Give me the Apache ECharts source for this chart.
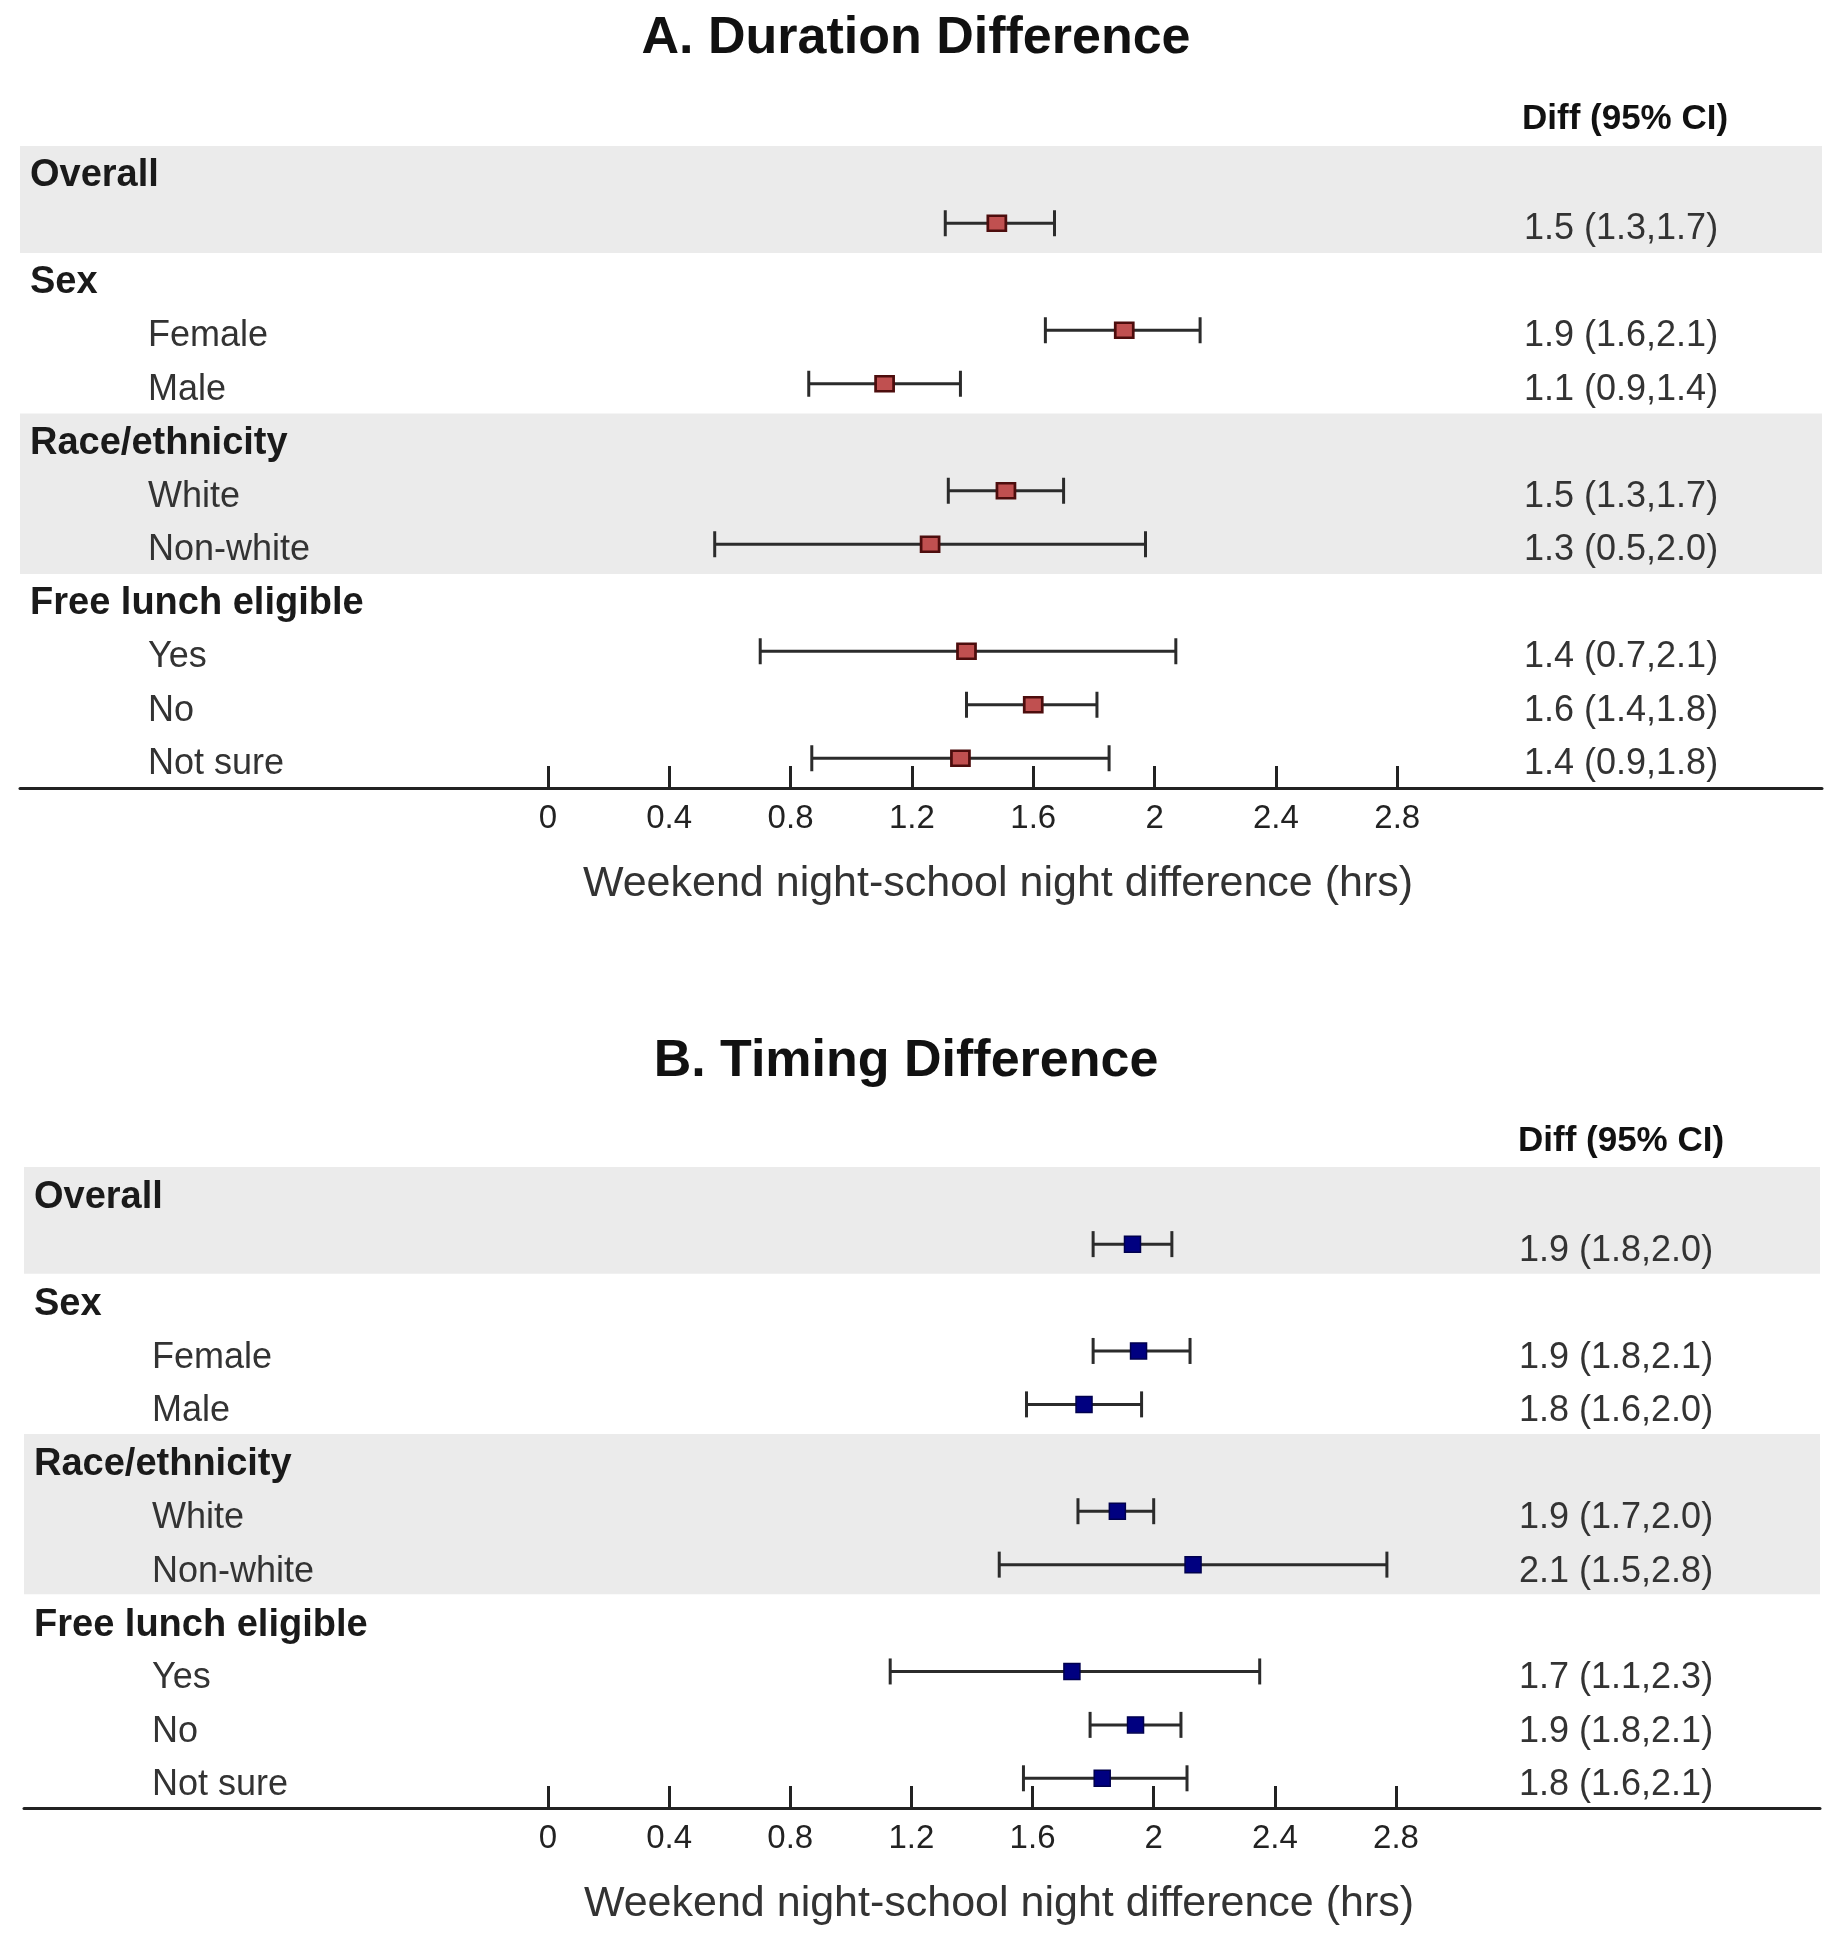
<!DOCTYPE html>
<html>
<head>
<meta charset="utf-8">
<title>Weekend night - school night difference</title>
<script src="https://cdn.jsdelivr.net/npm/echarts@6/dist/echarts.min.js"></script>
<style>
    html, body { margin: 0; padding: 0; background: #fff; }
    #main { width: 1845px; height: 1950px; }
</style>
</head>
<body>
<div id="main"></div>
<script>
// rows of both panels (header rows are bold, the rest indented)
var rowLabels = ['Overall', '', 'Sex', 'Female', 'Male', 'Race/ethnicity', 'White', 'Non-white',
    'Free lunch eligible', 'Yes', 'No', 'Not sure'];
var rowIsHeader = [1, 0, 1, 0, 0, 1, 0, 0, 1, 0, 0, 0];
var dataRows = [1, 3, 4, 6, 7, 9, 10, 11];
var shadedRows = [[0, 1], [5, 7]];
var tickValues = [0, 0.4, 0.8, 1.2, 1.6, 2, 2.4, 2.8];
var axisTitle = 'Weekend night-school night difference (hrs)';

// A. Duration difference
var durEst = [1.48, 1.90, 1.11, 1.51, 1.26, 1.38, 1.60, 1.36];
var durLow = [1.31, 1.64, 0.86, 1.32, 0.55, 0.70, 1.38, 0.87];
var durHigh = [1.67, 2.15, 1.36, 1.70, 1.97, 2.07, 1.81, 1.85];
var durText = ['1.5 (1.3,1.7)', '1.9 (1.6,2.1)', '1.1 (0.9,1.4)', '1.5 (1.3,1.7)', '1.3 (0.5,2.0)',
    '1.4 (0.7,2.1)', '1.6 (1.4,1.8)', '1.4 (0.9,1.8)'];

// B. Timing difference
var timEst = [1.93, 1.95, 1.77, 1.88, 2.13, 1.73, 1.94, 1.83];
var timLow = [1.80, 1.80, 1.58, 1.75, 1.49, 1.13, 1.79, 1.57];
var timHigh = [2.06, 2.12, 1.96, 2.00, 2.77, 2.35, 2.09, 2.11];
var timText = ['1.9 (1.8,2.0)', '1.9 (1.8,2.1)', '1.8 (1.6,2.0)', '1.9 (1.7,2.0)', '2.1 (1.5,2.8)',
    '1.7 (1.1,2.3)', '1.9 (1.8,2.1)', '1.8 (1.6,2.1)'];

var FONT = 'Arial, "Liberation Sans", Helvetica, sans-serif';

function renderCI(params, api) {
    var row = api.value(2);
    var p0 = api.coord([api.value(0), row]);
    var p1 = api.coord([api.value(1), row]);
    var y = p0[1] - 3;
    var cap = 13;
    var st = { stroke: '#2b2b2b', lineWidth: 3 };
    return {
        type: 'group',
        children: [
            { type: 'line', shape: { x1: p0[0], y1: y, x2: p1[0], y2: y }, style: st },
            { type: 'line', shape: { x1: p0[0], y1: y - cap, x2: p0[0], y2: y + cap }, style: st },
            { type: 'line', shape: { x1: p1[0], y1: y - cap, x2: p1[0], y2: y + cap }, style: st }
        ]
    };
}

var option = {
    backgroundColor: '#fff',
    animation: false,
    textStyle: { fontFamily: FONT },
    grid: [],
    xAxis: [],
    yAxis: [],
    series: [],
    graphic: []
};

function addPanel(i, cfg) {
    option.grid.push({ left: cfg.left, top: cfg.top, width: cfg.width, height: cfg.height });

    option.xAxis.push({
        type: 'value',
        gridIndex: i,
        z: 10,
        min: cfg.xMin,
        max: cfg.xMax,
        splitLine: { show: false },
        axisLine: { show: true, onZero: false, lineStyle: { color: '#222', width: 3 } },
        axisTick: { show: true, inside: true, length: 22, customValues: tickValues, lineStyle: { color: '#222', width: 3 } },
        axisLabel: { customValues: tickValues, margin: 14, fontSize: 33, color: '#222' },
        name: axisTitle,
        nameLocation: 'middle',
        nameGap: 75,
        nameTextStyle: { fontSize: 43, color: '#333', padding: [0, 0, 0, 154] }
    });

    // left labels
    option.yAxis.push({
        type: 'value',
        gridIndex: i,
        z: 10,
        inverse: true,
        min: -0.5,
        max: 11.5,
        splitLine: { show: false },
        axisLine: { show: false, onZero: false },
        axisTick: { show: false },
        axisLabel: {
            inside: true,
            align: 'left',
            margin: 10,
            customValues: rowLabels.map(function (l, k) { return k; }).filter(function (k) { return rowLabels[k] !== ''; }),
            formatter: function (v) {
                var k = Math.round(v);
                return rowIsHeader[k] ? '{h|' + rowLabels[k] + '}' : '{s|' + rowLabels[k] + '}';
            },
            rich: {
                h: { fontSize: 38, fontWeight: 'bold', color: '#1a1a1a', fontFamily: FONT, padding: [cfg.textShift, 0, 0, 0] },
                s: { fontSize: 36, color: '#333', fontFamily: FONT, padding: [cfg.textShift, 0, 0, 118] }
            }
        }
    });

    // right column: Diff (95% CI)
    option.yAxis.push({
        type: 'value',
        gridIndex: i,
        z: 10,
        position: 'right',
        inverse: true,
        min: -0.5,
        max: 11.5,
        splitLine: { show: false },
        axisLine: { show: false, onZero: false },
        axisTick: { show: false },
        axisLabel: {
            inside: true,
            align: 'left',
            margin: cfg.textMargin,
            customValues: dataRows,
            formatter: function (v) {
                return '{c|' + cfg.text[dataRows.indexOf(Math.round(v))] + '}';
            },
            rich: {
                c: { fontSize: 36, color: '#333', fontFamily: FONT, padding: [cfg.textShift, 0, 0, 0] }
            }
        }
    });

    option.series.push({
        type: 'custom',
        name: cfg.name + ' CI',
        xAxisIndex: i,
        yAxisIndex: i * 2,
        z: 2,
        renderItem: renderCI,
        encode: { x: [0, 1], y: 2 },
        data: dataRows.map(function (r, k) { return [cfg.low[k], cfg.high[k], r]; }),
        markArea: {
            silent: true,
            itemStyle: { color: '#ebebeb' },
            data: shadedRows.map(function (s) {
                return [{ yAxis: s[0] - 0.5 }, { yAxis: s[1] + 0.5 }];
            })
        }
    });

    option.series.push({
        type: 'scatter',
        name: cfg.name,
        xAxisIndex: i,
        yAxisIndex: i * 2,
        z: 3,
        symbol: 'rect',
        symbolSize: cfg.symbolSize,
        symbolOffset: [0, -3],
        itemStyle: cfg.itemStyle,
        data: dataRows.map(function (r, k) { return [cfg.est[k], r]; })
    });

    option.graphic.push({
        type: 'text',
        x: cfg.titleX,
        y: cfg.titleY,
        style: {
            text: cfg.title, fontSize: 52, fontWeight: 'bold', fontFamily: FONT,
            fill: '#111', align: 'center', verticalAlign: 'middle'
        }
    });
    option.graphic.push({
        type: 'text',
        x: cfg.headX,
        y: cfg.headY,
        style: {
            text: 'Diff (95% CI)', fontSize: 35, fontWeight: 'bold', fontFamily: FONT,
            fill: '#111', align: 'left', verticalAlign: 'middle'
        }
    });
}

addPanel(0, {
    name: 'Duration', title: 'A. Duration Difference',
    est: durEst, low: durLow, high: durHigh, text: durText,
    left: 20, top: 146, width: 1802, height: 642, xMin: -1.74, xMax: 4.2,
    textMargin: 298, textShift: 6, titleX: 916, titleY: 39, headX: 1522, headY: 119,
    symbolSize: [18, 15],
    itemStyle: { color: '#c05050', borderColor: '#4d0d0d', borderWidth: 2.5, opacity: 1 }
});

addPanel(1, {
    name: 'Timing', title: 'B. Timing Difference',
    est: timEst, low: timLow, high: timHigh, text: timText,
    left: 24, top: 1167, width: 1796, height: 641, xMin: -1.73, xMax: 4.2,
    textMargin: 301, textShift: 8, titleX: 906, titleY: 1062, headX: 1518, headY: 1141,
    symbolSize: [16, 16],
    itemStyle: { color: '#000080', borderColor: '#00004d', borderWidth: 1.5, opacity: 1 }
});

var chart = echarts.init(document.getElementById('main'));
chart.setOption(option);
window.onresize = function () {
    chart.resize();
};
</script>
</body>
</html>
